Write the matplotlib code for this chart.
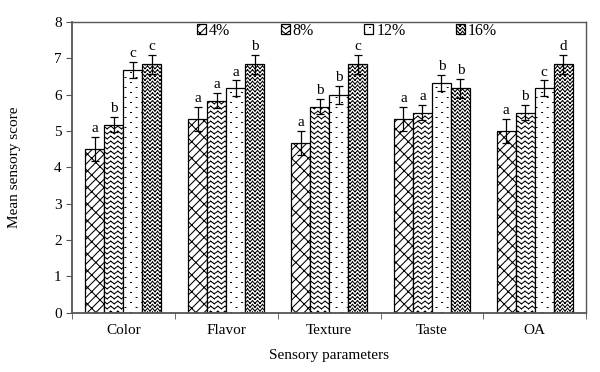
import warnings
import matplotlib
matplotlib.use("Agg")
import matplotlib.pyplot as plt
import matplotlib.hatch as mhatch
from matplotlib.path import Path
import numpy as np

warnings.filterwarnings("ignore")

categories = ["Color", "Flavor", "Texture", "Taste", "OA"]
series = ["4%", "8%", "12%", "16%"]
values = {
    "4%":  [4.50, 5.33, 4.67, 5.33, 5.00],
    "8%":  [5.17, 5.83, 5.67, 5.50, 5.50],
    "12%": [6.67, 6.17, 6.00, 6.33, 6.17],
    "16%": [6.83, 6.83, 6.83, 6.17, 6.83],
}
errors = {
    "4%":  [0.33, 0.33, 0.33, 0.33, 0.33],
    "8%":  [0.21, 0.21, 0.21, 0.21, 0.21],
    "12%": [0.22, 0.22, 0.25, 0.22, 0.22],
    "16%": [0.27, 0.27, 0.27, 0.27, 0.27],
}
letters = {
    "4%":  ["a", "a", "a", "a", "a"],
    "8%":  ["b", "a", "b", "a", "b"],
    "12%": ["c", "a", "b", "b", "c"],
    "16%": ["c", "b", "c", "b", "d"],
}
hatches = ["b", "w", "d", "z"]


# ---- custom hatch patterns (style only) ----
def _segments_to(vertices, codes, segs):
    for i, (p0, p1) in enumerate(segs):
        vertices[2 * i] = p0
        vertices[2 * i + 1] = p1
        codes[2 * i] = Path.MOVETO
        codes[2 * i + 1] = Path.LINETO


class BrickDiagHatch(mhatch.HatchPatternBase):
    def __init__(self, hatch, density):
        self.on = hatch.count("b") > 0
        self.segs = []
        if self.on:
            n, m = 12, 12
            dc = 1.0 / n
            for j in range(-n - 1, n + 1):
                c = j * dc
                self.segs.append(((-0.1, -0.1 + c), (1.1, 1.1 + c)))
                off = 0.5 * (j % 2)
                for k in range(-2, m + 2):
                    t = (k + off) / m
                    self.segs.append(((t, t + c), (t - dc / 2, t + c + dc / 2)))
        self.num_vertices = 2 * len(self.segs)

    def set_vertices_and_codes(self, vertices, codes):
        _segments_to(vertices, codes, self.segs)


class WaveHatchBase(mhatch.HatchPatternBase):
    char = "w"
    rows, periods, amp = 20, 14, 0.012

    def __init__(self, hatch, density):
        self.on = hatch.count(self.char) > 0
        self.segs = []
        if self.on:
            for j in range(self.rows):
                y = (j + 0.5) / self.rows
                xs = np.arange(0, 2 * self.periods + 1) / (2 * self.periods)
                ys = y + self.amp * np.where(np.arange(len(xs)) % 2 == 0, -1, 1)
                for a in range(len(xs) - 1):
                    self.segs.append(((xs[a], ys[a]), (xs[a + 1], ys[a + 1])))
        self.num_vertices = 2 * len(self.segs)

    def set_vertices_and_codes(self, vertices, codes):
        _segments_to(vertices, codes, self.segs)


class WaveHatch(WaveHatchBase):
    char = "w"
    rows, periods, amp = 20, 14, 0.013


class DenseWaveHatch(WaveHatchBase):
    char = "z"
    rows, periods, amp = 26, 20, 0.014


class SparseDotHatch(mhatch.HatchPatternBase):
    def __init__(self, hatch, density):
        self.on = hatch.count("d") > 0
        self.segs = []
        if self.on:
            n_rows, n_cols = 20, 9
            for j in range(n_rows):
                y = (j + 0.5) / n_rows
                off = 0.5 * (j % 2)
                for k in range(n_cols):
                    x = (k + off + 0.25) / n_cols
                    self.segs.append(((x, y), (x + 0.009, y)))
        self.num_vertices = 2 * len(self.segs)

    def set_vertices_and_codes(self, vertices, codes):
        _segments_to(vertices, codes, self.segs)


mhatch._hatch_types.extend([BrickDiagHatch, WaveHatch, DenseWaveHatch, SparseDotHatch])
mhatch._validate_hatch_pattern = lambda h: None

plt.rcParams['font.family'] = ['Liberation Serif', 'DejaVu Serif']
plt.rcParams['hatch.linewidth'] = 0.75

fig = plt.figure(figsize=(6.0, 3.72), dpi=100)
ax = fig.add_axes([0.12, 0.159, 0.857, 0.782])

x = np.arange(len(categories))
w = 0.185
for i, s in enumerate(series):
    pos = x + (i - 1.5) * w
    ax.bar(pos, values[s], width=w, color="white", edgecolor="black",
           linewidth=0.9, hatch=hatches[i], label=s, zorder=2)
    ax.errorbar(pos, values[s], yerr=errors[s], fmt="none", ecolor="black",
                elinewidth=0.9, capsize=3, capthick=0.9, zorder=3)
    for p, v, e, t in zip(pos, values[s], errors[s], letters[s]):
        ax.text(p, v + e + 0.05, t, ha="center", va="bottom", fontsize=11)

ax.set_xlim(-0.5, len(categories) - 0.5)
ax.set_ylim(0, 8)
ax.set_yticks(range(0, 9))
ax.set_xticks(x)
ax.set_xticklabels(categories, fontsize=11)
ax.set_xticks(np.arange(-0.5, len(categories)), minor=True)
ax.tick_params(axis="x", which="major", length=0, pad=8)
ax.tick_params(axis="x", which="minor", length=4, direction="out", color="#555555")
ax.tick_params(axis="y", labelsize=11, length=4, direction="out", color="#555555")
for sp in ax.spines.values():
    sp.set_color("#555555")
    sp.set_linewidth(1.0)
ax.spines["left"].set_linewidth(1.3)
ax.spines["bottom"].set_linewidth(1.3)

ax.set_ylabel("Mean sensory score", fontsize=11, labelpad=24)
ax.set_xlabel("Sensory parameters", fontsize=11, labelpad=9)

leg = ax.legend(loc="upper center", bbox_to_anchor=(0.535, 1.025), ncol=4,
                frameon=False, fontsize=11.5, handlelength=0.55, handleheight=0.55,
                handletextpad=0.2, columnspacing=3.15, borderaxespad=0.1)

fig.savefig("out.png", dpi=100)
